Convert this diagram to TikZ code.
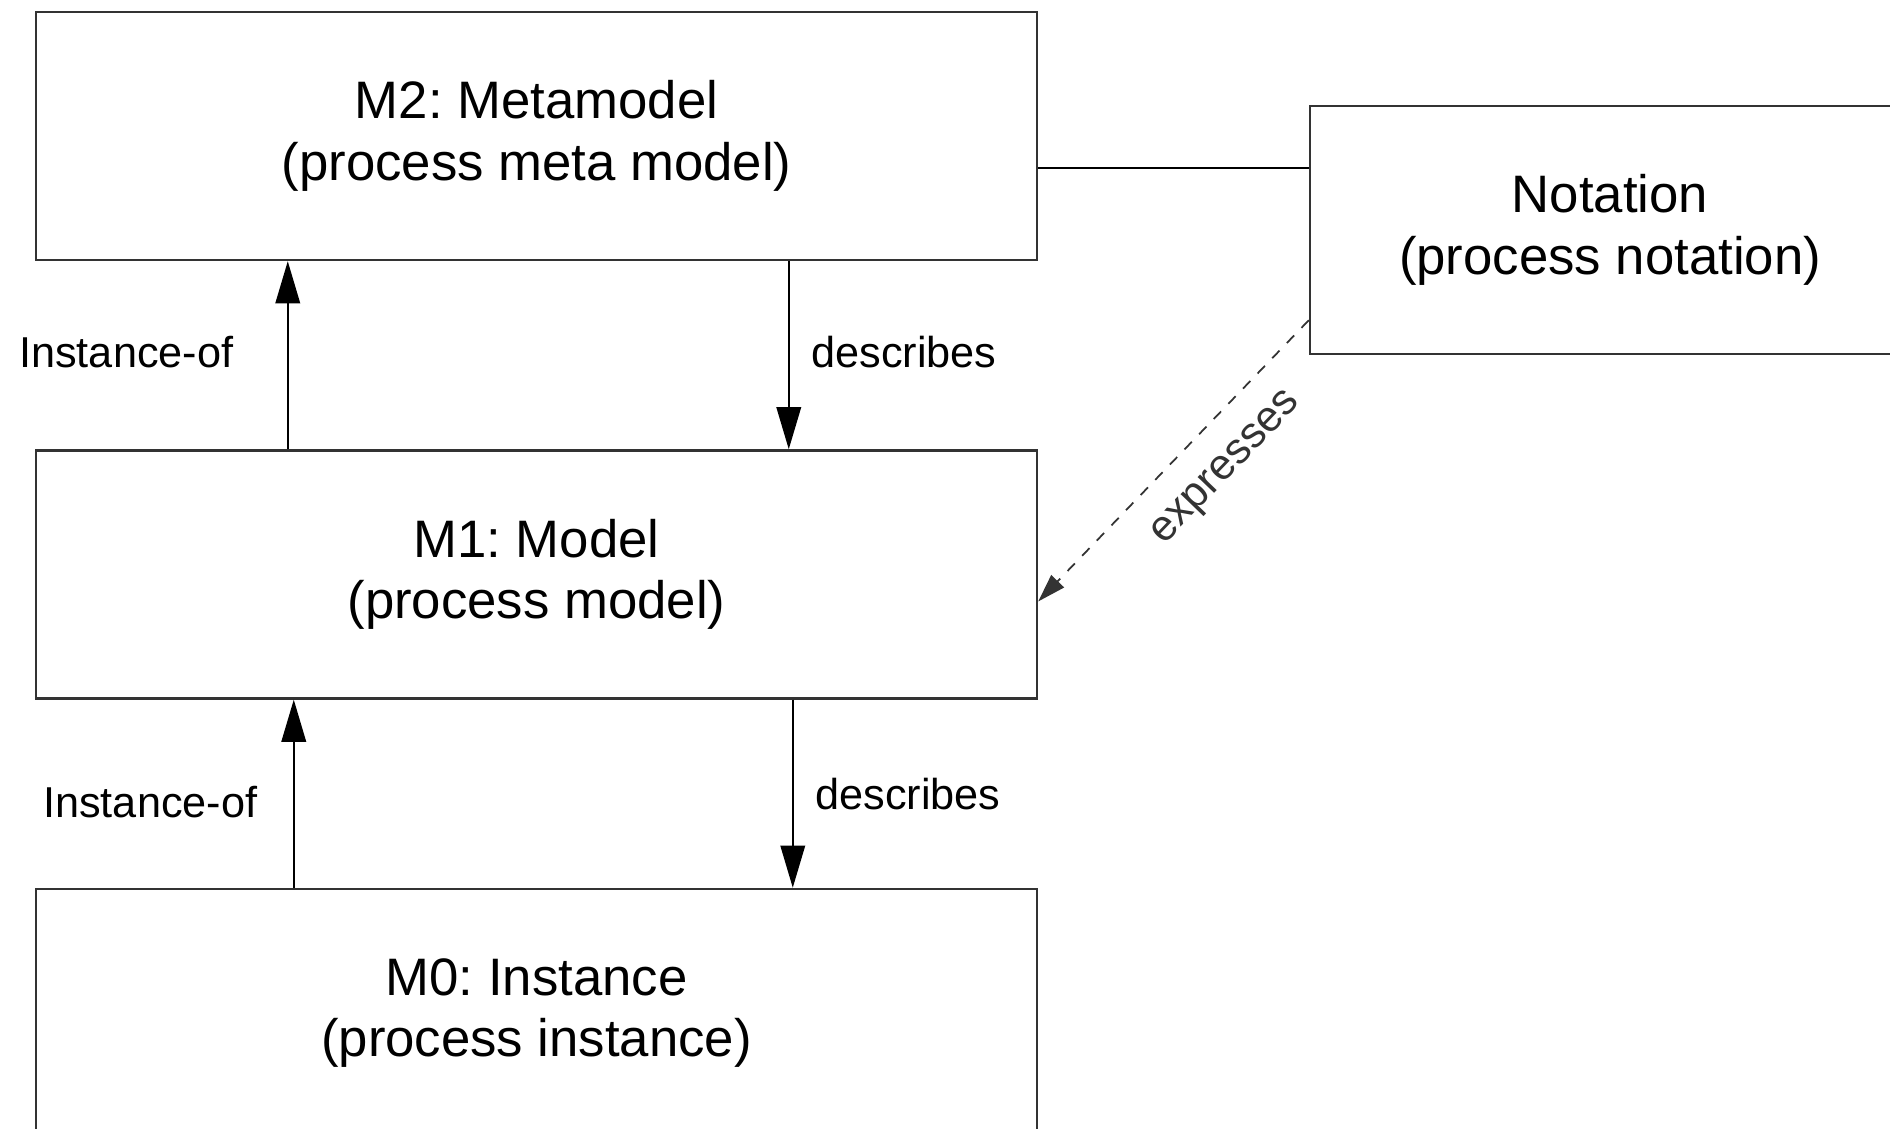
\documentclass[tikz,border=0pt]{standalone}
\usepackage{fontspec}
\setmainfont{Liberation Sans}
\usetikzlibrary{positioning,arrows.meta}
\frenchspacing

\begin{document}
\begin{tikzpicture}[
	layer/.style={draw=black!80, line width=0.7pt, minimum width=10.01cm, minimum height=2.48cm, align=center, font=\fontsize{15}{17.5}\selectfont},
	rel/.style={font=\fontsize{12.3}{14}\selectfont},
	tip/.style={line width=0.5pt, -{Triangle[length=12pt,width=7pt]}},
	node distance=1.88cm
]
			\useasboundingbox (0,0) rectangle (18.9,-11.29);

			% the three layers, one under the other
			\node[layer] (M2) at (5.365,-1.36) {M2: Metamodel\\(process meta model)};
			\node[layer, below=of M2] (M1) {M1: Model\\(process model)};
			\node[layer, below=of M1] (M0) {M0: Instance\\(process instance)};
			\node[layer, minimum width=6cm] (N) at (16.10,-2.30) {Notation\\(process notation)};

			\draw[tip] ([xshift=2.53cm]M1.north west) -- ([xshift=2.53cm]M2.south west) node[rel, midway, left=0.42cm, yshift=0.03cm] {Instance-of};
			\draw[tip] ([xshift=7.54cm]M2.south west) -- ([xshift=7.54cm]M1.north west) node[rel, midway, right=0.1cm, yshift=0.03cm] {describes};
			\draw[tip] ([xshift=2.59cm]M0.north west) -- ([xshift=2.59cm]M1.south west) node[rel, midway, left=0.24cm, yshift=-0.08cm] {Instance-of};
			\draw[tip] ([xshift=7.58cm]M1.south west) -- ([xshift=7.58cm]M0.north west) node[rel, midway, right=0.1cm] {describes};

			\draw[line width=0.6pt] ([yshift=-0.32cm]M2.east) coordinate (m2r) -- (m2r -| N.west);
			\draw[dashed, black!80, line width=0.5pt, -{Triangle[length=8pt,width=5pt]}] ([yshift=0.35cm]N.south west) -- ([yshift=-0.27cm]M1.east) node[rel, pos=0.42, sloped, below=0.16cm] {expresses};
		\end{tikzpicture}
\end{document}
